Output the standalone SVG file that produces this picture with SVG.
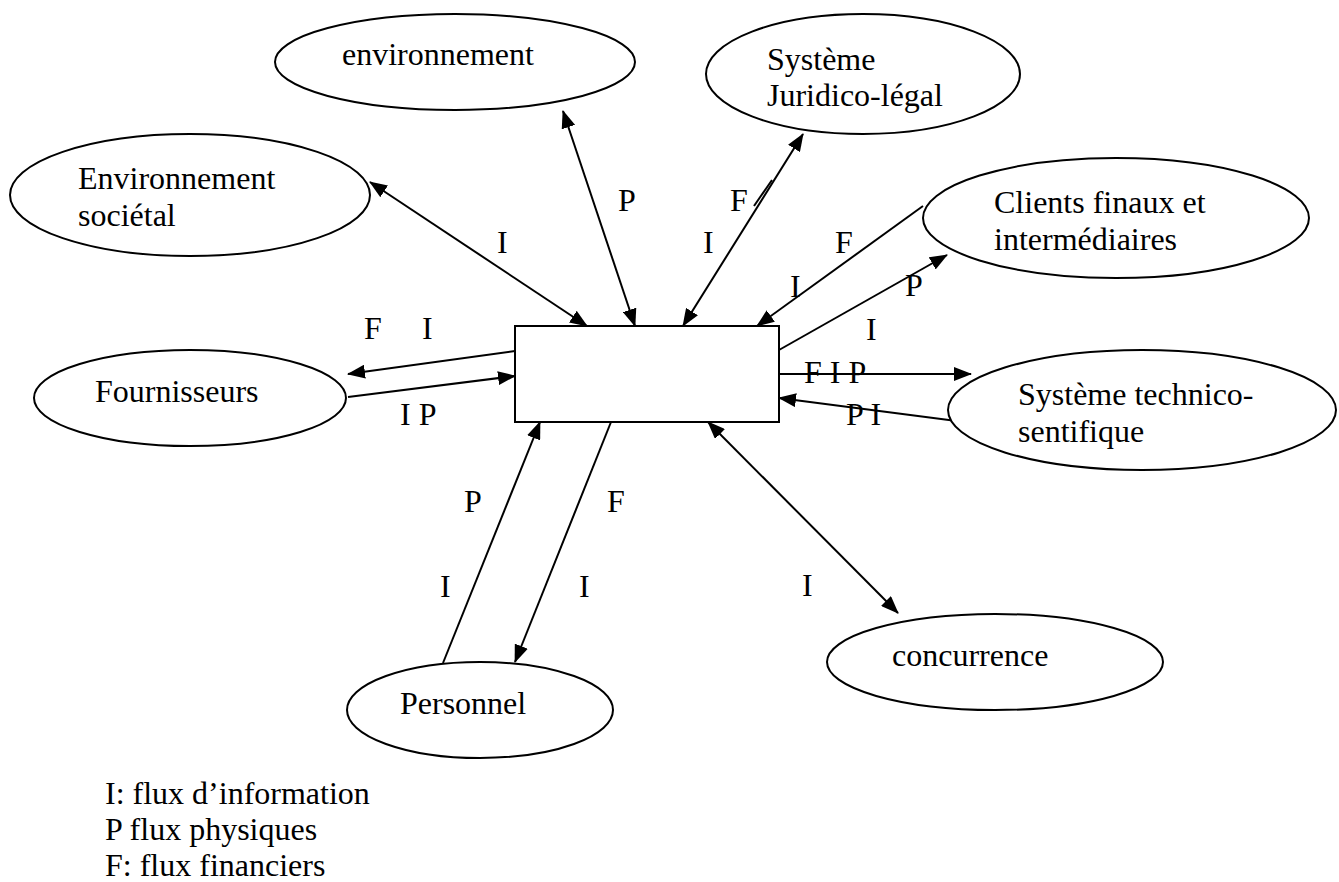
<svg xmlns="http://www.w3.org/2000/svg" width="1339" height="882" viewBox="0 0 1339 882">
<style>
.n{fill:#fff;stroke:#000;stroke-width:2}
.t{font-family:"Liberation Serif","Times New Roman",serif;font-size:32px;fill:#000}
.c line{stroke:#000;stroke-width:2}
.e{marker-end:url(#ah)}
.b{marker-start:url(#ah);marker-end:url(#ah)}
</style>
<defs>
<marker id="ah" viewBox="0 0 18 14" refX="17" refY="7" markerWidth="18" markerHeight="14" markerUnits="userSpaceOnUse" orient="auto-start-reverse">
<path d="M0,0 L18,7 L0,14 z" fill="#000"/>
</marker>
</defs>
<rect width="1339" height="882" fill="#fff"/>
<g id="connectors" class="c">
<line class="b" x1="370" y1="182" x2="587" y2="326"/>
<line class="b" x1="563" y1="111" x2="635" y2="326"/>
<line class="b" x1="803" y1="134" x2="683" y2="326"/>
<line x1="754" y1="206" x2="772" y2="180"/>
<line class="e" x1="923" y1="206" x2="757" y2="326"/>
<line class="e" x1="779" y1="350" x2="947" y2="255"/>
<line class="e" x1="779" y1="374" x2="971" y2="374"/>
<line class="e" x1="972" y1="423" x2="779" y2="398"/>
<line class="b" x1="708" y1="422" x2="898" y2="613"/>
<line class="e" x1="443" y1="663" x2="540" y2="422"/>
<line class="e" x1="611" y1="422" x2="515" y2="662"/>
<line class="e" x1="515" y1="351" x2="348" y2="374"/>
<line class="e" x1="348" y1="397" x2="515" y2="376"/>
</g>
<g id="entreprise"><rect class="n" x="515" y="326" width="264" height="96"/></g>
<g id="environnement"><ellipse class="n" cx="455" cy="62" rx="180" ry="48"/><text class="t" x="342" y="65">environnement</text></g>
<g id="environnement-societal"><ellipse class="n" cx="190" cy="195" rx="180" ry="61"/><text class="t" x="78" y="189">Environnement</text><text class="t" x="78" y="226">sociétal</text></g>
<g id="juridico"><ellipse class="n" cx="863" cy="74" rx="157" ry="60"/><text class="t" x="767" y="70">Système</text><text class="t" x="767" y="106">Juridico-légal</text></g>
<g id="clients"><ellipse class="n" cx="1116" cy="218" rx="193" ry="60"/><text class="t" x="994" y="213">Clients finaux et</text><text class="t" x="994" y="250">intermédiaires</text></g>
<g id="technico"><ellipse class="n" cx="1142" cy="410" rx="194" ry="60"/><text class="t" x="1018" y="405">Système technico-</text><text class="t" x="1018" y="442">sentifique</text></g>
<g id="fournisseurs"><ellipse class="n" cx="190" cy="398" rx="156" ry="48"/><text class="t" x="95" y="402">Fournisseurs</text></g>
<g id="personnel"><ellipse class="n" cx="480" cy="710" rx="133" ry="48"/><text class="t" x="400" y="714">Personnel</text></g>
<g id="concurrence"><ellipse class="n" cx="995" cy="662" rx="168" ry="48"/><text class="t" x="892" y="666">concurrence</text></g>
<g id="labels">
<text class="t" x="497" y="253">I</text>
<text class="t" x="618" y="211">P</text>
<text class="t" x="730" y="211">F</text>
<text class="t" x="703" y="253">I</text>
<text class="t" x="835" y="253">F</text>
<text class="t" x="790" y="297">I</text>
<text class="t" x="905" y="296">P</text>
<text class="t" x="866" y="340">I</text>
<text class="t" x="804" y="383">F I P</text>
<text class="t" x="846" y="425">P I</text>
<text class="t" x="802" y="596">I</text>
<text class="t" x="464" y="512">P</text>
<text class="t" x="440" y="597">I</text>
<text class="t" x="607" y="512">F</text>
<text class="t" x="579" y="597">I</text>
<text class="t" x="364" y="339">F</text>
<text class="t" x="422" y="339">I</text>
<text class="t" x="400" y="425">I P</text>
</g>
<g id="legend">
<text class="t" x="105" y="804">I: flux d’information</text>
<text class="t" x="105" y="840">P flux physiques</text>
<text class="t" x="105" y="876">F: flux financiers</text>
</g>
</svg>
